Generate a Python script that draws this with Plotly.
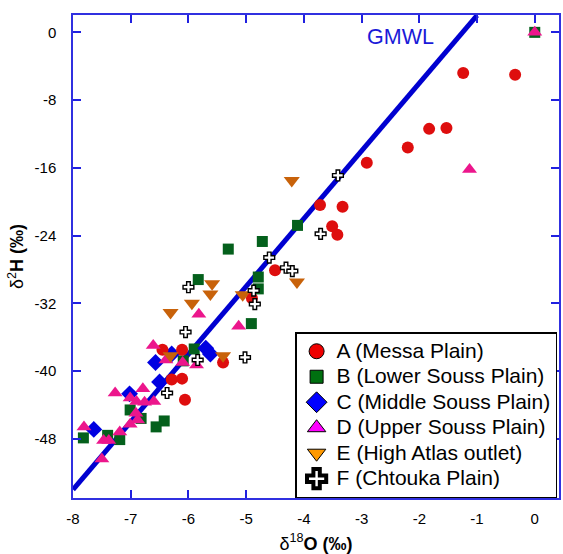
import plotly.graph_objects as go

# Stable isotope data (δ18O, δ2H in ‰ vs VSMOW) by sampling area
a_o18 = [-1.24, -0.34, -1.83, -1.53, -2.20, -2.91, -3.72, -3.33, -3.51, -3.42,
         -4.50, -4.90, -6.45, -6.11, -5.40, -6.29, -6.11, -6.06]
a_h2 = [-4.8, -5.0, -11.4, -11.3, -13.6, -15.4, -20.4, -20.6, -22.9, -23.9,
        -28.1, -31.4, -37.5, -37.5, -39.0, -41.0, -40.9, -43.4]

b_o18 = [0.0, -4.11, -4.72, -5.31, -5.83, -4.79, -4.79, -4.91, -5.90, -6.09,
         -6.42, -6.56, -7.82, -7.40, -7.19, -7.01, -6.82]
b_h2 = [0.0, -22.8, -24.7, -25.6, -29.2, -28.9, -30.3, -34.4, -37.4, -38.8,
        -45.9, -46.6, -47.9, -47.6, -48.1, -44.6, -45.6]

c_o18 = [-6.57, -6.50, -5.70, -5.62, -6.29, -7.02, -7.64]
c_h2 = [-39.0, -41.3, -37.3, -38.0, -38.0, -42.7, -46.9]

d_o18 = [0.0, -1.13, -5.82, -5.13, -6.61, -6.39, -6.10, -5.86, -6.79, -7.27,
         -7.01, -6.90, -6.76, -6.60, -6.91, -7.01, -6.88, -7.19, -7.81, -7.47,
         -7.38, -7.50]
d_h2 = [0.0, -16.2, -33.3, -34.7, -37.0, -38.7, -39.0, -39.3, -42.1, -42.6,
        -43.2, -43.6, -43.7, -43.6, -45.0, -46.3, -45.8, -47.2, -46.6, -48.2,
        -48.2, -50.4]

e_o18 = [-4.21, -5.59, -5.62, -4.12, -5.06, -5.94, -6.31, -5.40, -6.31]
e_h2 = [-17.5, -29.7, -30.9, -29.5, -31.0, -32.0, -33.1, -38.2, -38.2]

f_o18 = [-3.41, -3.71, -4.60, -4.31, -4.20, -6.00, -4.87, -4.85, -6.05, -5.02,
         -5.84, -6.37]
f_h2 = [-16.9, -23.8, -26.6, -27.8, -28.2, -30.1, -30.5, -32.1, -35.4, -38.4,
        -38.7, -42.6]

# Global Meteoric Water Line: δ2H = 8·δ18O + 10
gmwl_o18 = [-8.0, -1.0]
gmwl_h2 = [8 * v + 10 for v in gmwl_o18]

x_ticks = [-8, -7, -6, -5, -4, -3, -2, -1, 0]
y_ticks = [0, -8, -16, -24, -32, -40, -48]

series = [
    ("A (Messa Plain)", a_o18, a_h2),
    ("B (Lower Souss Plain)", b_o18, b_h2),
    ("C (Middle Souss Plain)", c_o18, c_h2),
    ("D (Upper Souss Plain)", d_o18, d_h2),
    ("E (High Atlas outlet)", e_o18, e_h2),
    ("F (Chtouka Plain)", f_o18, f_h2),
]

# plotted marker style per series
plot_style = {
    "A (Messa Plain)": dict(symbol="circle", size=12, color="rgb(222,14,14)"),
    "B (Lower Souss Plain)": dict(symbol="square", size=11, color="rgb(4,96,28)"),
    "C (Middle Souss Plain)": dict(symbol="diamond", size=13, color="rgb(0,0,225)"),
    "D (Upper Souss Plain)": dict(symbol="triangle-up", size=13, color="rgb(236,22,140)"),
    "E (High Atlas outlet)": dict(symbol="triangle-down", size=14, color="rgb(200,98,10)"),
    "F (Chtouka Plain)": dict(symbol="cross", size=9, color="white",
                              line=dict(color="black", width=1.4)),
}
# legend symbol style per series
legend_style = {
    "A (Messa Plain)": dict(symbol="circle", size=15, color="#EE0000",
                            line=dict(color="black", width=1)),
    "B (Lower Souss Plain)": dict(symbol="square", size=13, color="#007010",
                                  line=dict(color="black", width=1)),
    "C (Middle Souss Plain)": dict(symbol="diamond", size=17, color="#0000FF",
                                   line=dict(color="black", width=1)),
    "D (Upper Souss Plain)": dict(symbol="triangle-up", size=16, color="#FF00FF",
                                  line=dict(color="black", width=1)),
    "E (High Atlas outlet)": dict(symbol="triangle-down", size=16, color="#FF9900",
                                  line=dict(color="black", width=1)),
    "F (Chtouka Plain)": dict(symbol="cross", size=17, color="white",
                              line=dict(color="black", width=4)),
}

fig = go.Figure()

fig.add_trace(go.Scatter(x=gmwl_o18, y=gmwl_h2, mode="lines",
                         line=dict(color="#0000D0", width=5),
                         showlegend=False, hoverinfo="skip"))

draw_order = [1, 2, 0, 3, 4, 5]
for i in draw_order:
    name, xs, ys = series[i]
    fig.add_trace(go.Scatter(x=xs, y=ys, mode="markers", name=name,
                             marker=plot_style[name], showlegend=False))

# legend entries: larger text on a tighter row pitch
for gi, (name, xs, ys) in enumerate(series):
    fig.add_trace(go.Scatter(x=[None], y=[None], mode="markers",
                             name=f'<span style="font-size:21px">{name}</span>',
                             marker=legend_style[name], legendgroup=f"g{gi}",
                             showlegend=True))

fig.add_annotation(x=-2.32, y=-0.6, text="GMWL", showarrow=False,
                   font=dict(size=21.5, color="#1a1ad8"))

axis_common = dict(
    showline=True, linecolor="#3030E0", linewidth=1.5, mirror="ticks",
    ticks="inside", ticklen=8, tickwidth=1.5, tickcolor="#2020E0",
    showgrid=False, zeroline=False,
    tickfont=dict(family="Liberation Sans, Arial, sans-serif", size=15, color="black"),
)

fig.update_xaxes(range=[-8.0, 0.42], tickvals=x_ticks,
                 ticktext=[str(v) for v in x_ticks], ticklabelstandoff=6,
                 title=dict(text="δ<sup>18</sup><b>O (‰)</b>", standoff=12,
                            font=dict(family="Liberation Sans, Arial, sans-serif",
                                      size=18, color="black")),
                 **axis_common)
fig.update_yaxes(range=[-55, 2.05], tickvals=y_ticks,
                 ticktext=[str(v) for v in y_ticks], ticklabelstandoff=12,
                 title=dict(text="δ<sup>2</sup><b>H (‰)</b>", standoff=6,
                            font=dict(family="Liberation Sans, Arial, sans-serif",
                                      size=18, color="black")),
                 **axis_common)

fig.update_layout(
    width=563, height=554,
    margin=dict(l=73, r=2, t=15, b=56),
    plot_bgcolor="white", paper_bgcolor="white",
    font=dict(family="Liberation Sans, Arial, sans-serif", color="black"),
    legend=dict(x=0.457, y=0.0, xanchor="left", yanchor="bottom",
                bgcolor="white", bordercolor="black", borderwidth=1.5,
                font=dict(size=17.3, color="black"), tracegroupgap=0,
                itemwidth=30),
)

fig.write_html("out.html")
